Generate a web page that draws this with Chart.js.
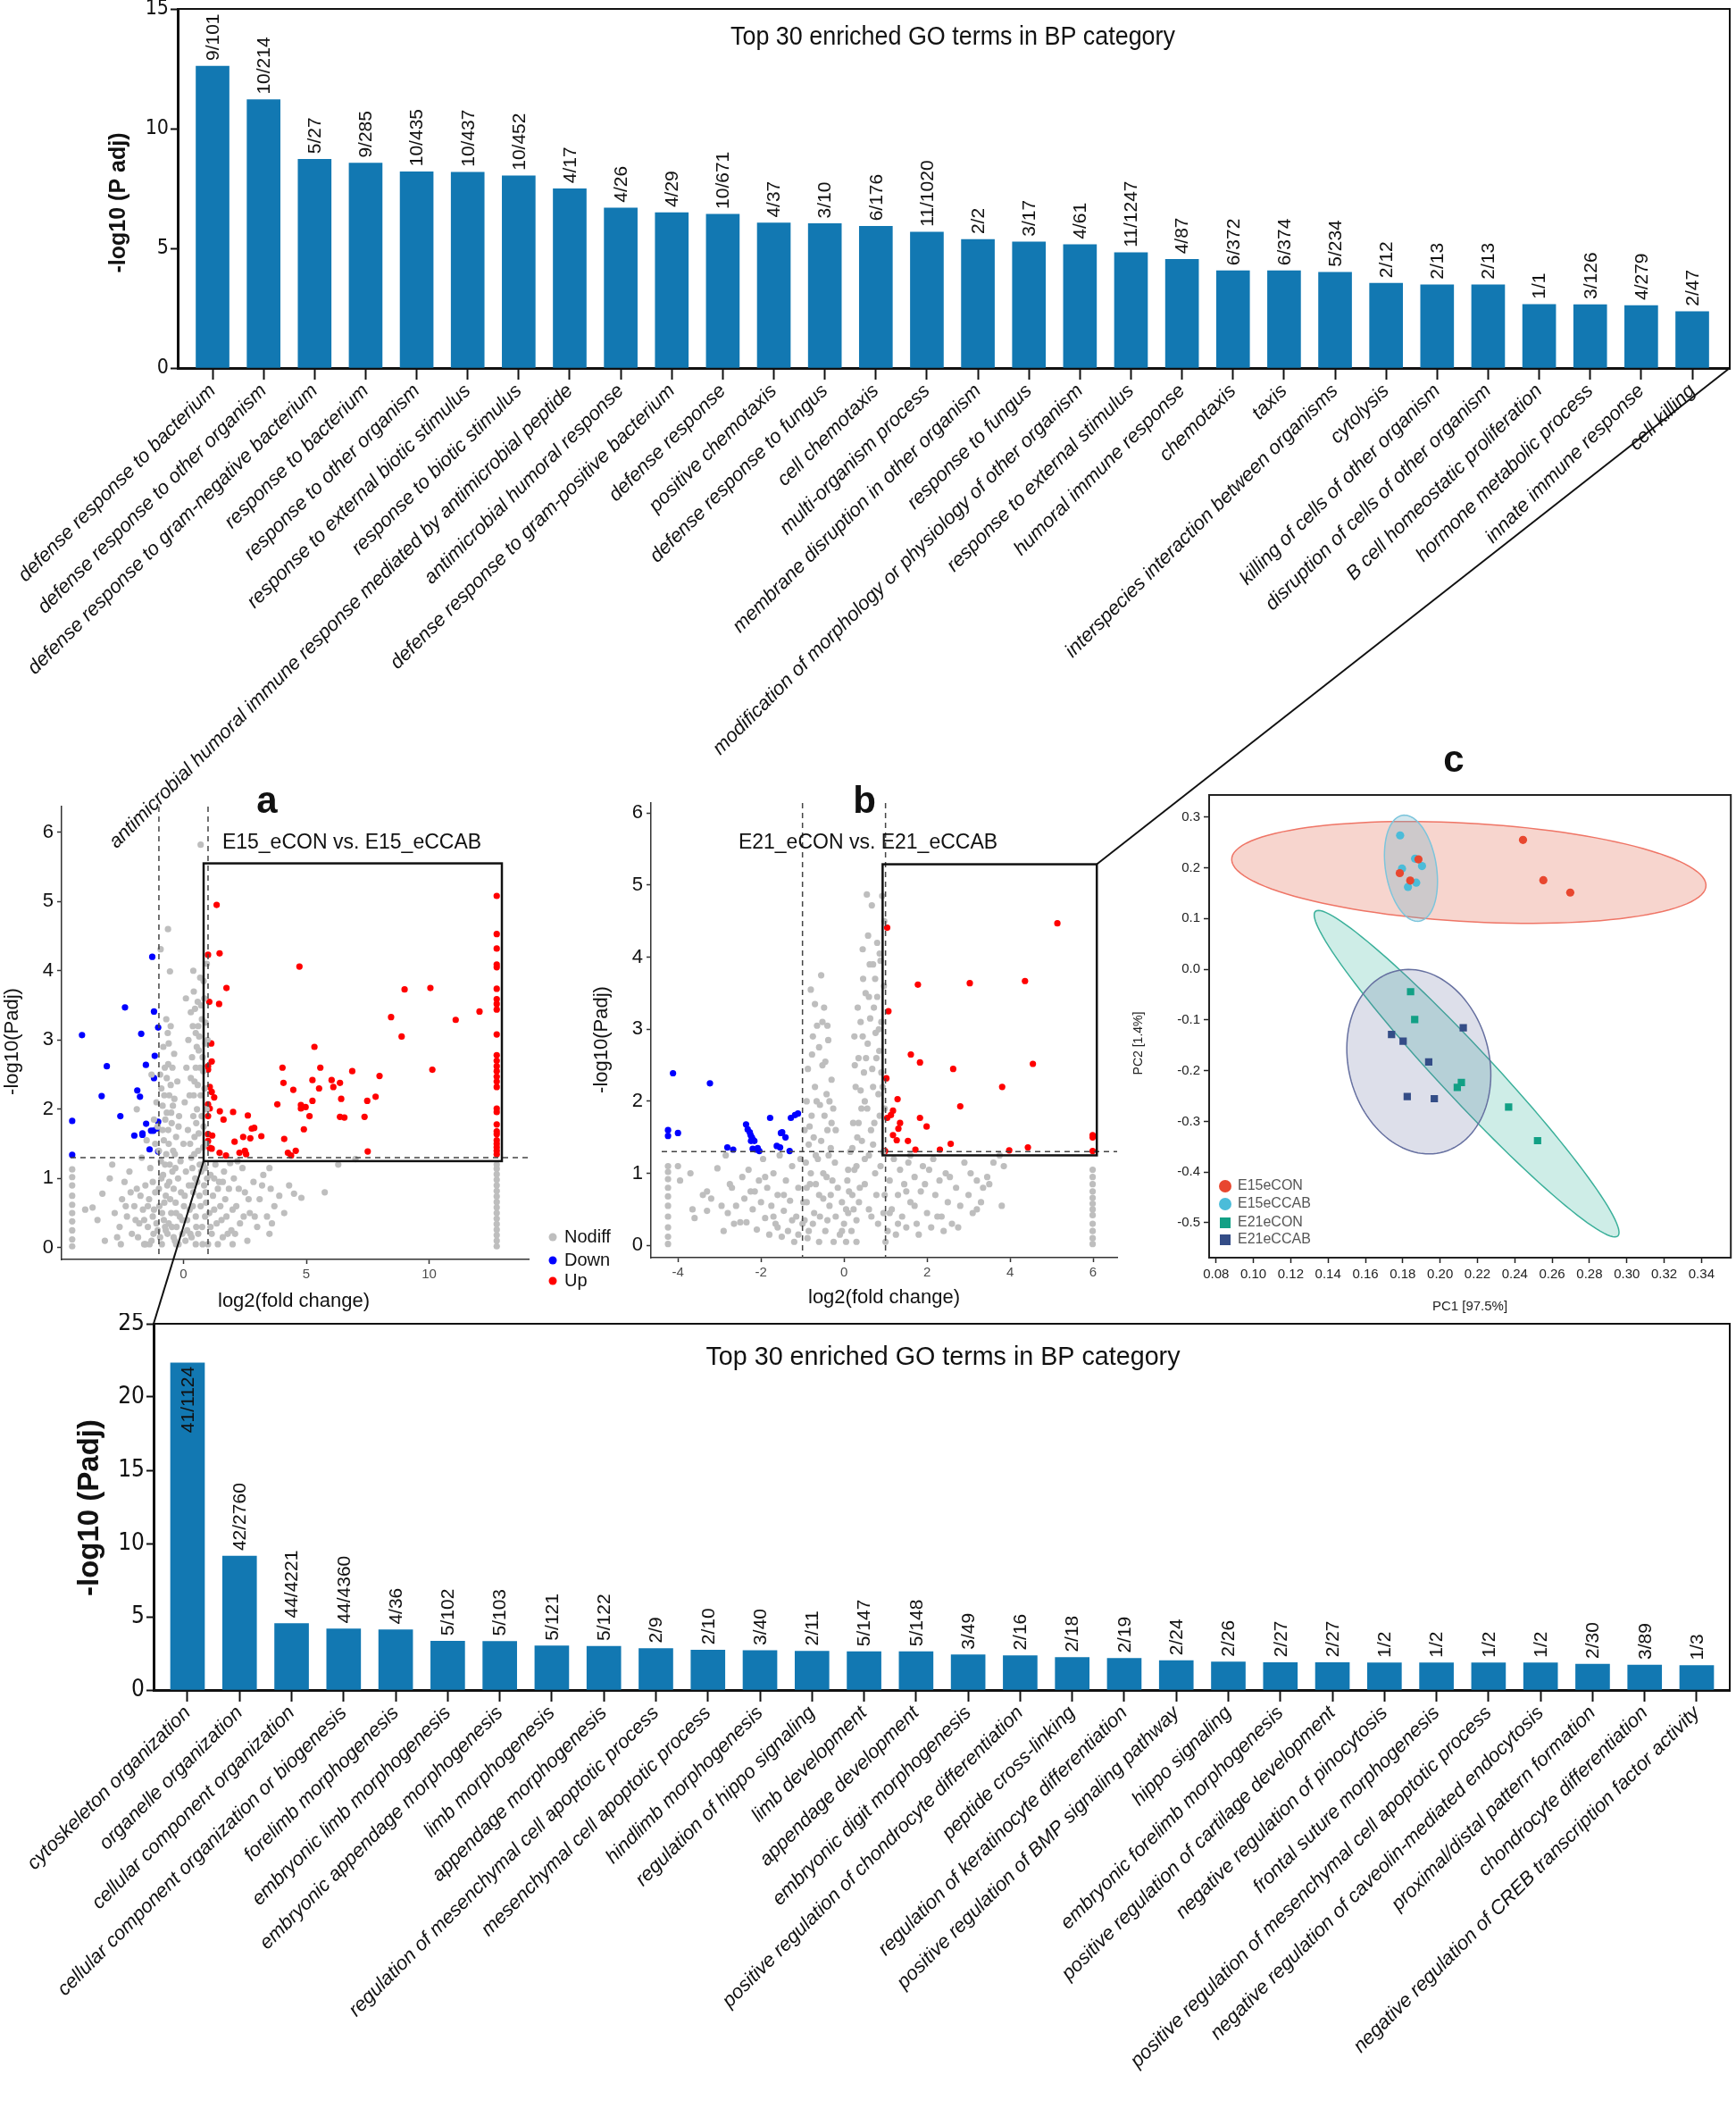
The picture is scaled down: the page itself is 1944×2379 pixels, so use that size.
<!DOCTYPE html>
<html><head><meta charset="utf-8">
<script src="https://cdn.jsdelivr.net/npm/chart.js@4.4.1/dist/chart.umd.min.js"></script>
<style>
html,body{margin:0;padding:0;background:#fff}
body{width:1944px;height:2379px;position:relative;overflow:hidden}
canvas{position:absolute}
</style></head>
<body>
<canvas id="cTop" width="1944" height="1000" style="left:0px;top:0px"></canvas>
<canvas id="cA" width="700" height="650" style="left:0px;top:860px"></canvas>
<canvas id="cB" width="640" height="650" style="left:640px;top:860px"></canvas>
<canvas id="cC" width="684" height="660" style="left:1260px;top:830px"></canvas>
<canvas id="cBot" width="1944" height="909" style="left:0px;top:1470px"></canvas>
<canvas id="cOv" width="1944" height="2379" style="left:0px;top:0px;z-index:10;pointer-events:none"></canvas>
<script>
// ---------------- DATA ----------------
const topTerms = ["defense response to bacterium","defense response to other organism","defense response to gram-negative bacterium","response to bacterium","response to other organism","response to external biotic stimulus","response to biotic stimulus","antimicrobial humoral immune response mediated by antimicrobial peptide","antimicrobial humoral response","defense response to gram-positive bacterium","defense response","positive chemotaxis","defense response to fungus","cell chemotaxis","multi-organism process","membrane disruption in other organism","response to fungus","modification of morphology or physiology of other organism","response to external stimulus","humoral immune response","chemotaxis","taxis","interspecies interaction between organisms","cytolysis","killing of cells of other organism","disruption of cells of other organism","B cell homeostatic proliferation","hormone metabolic process","innate immune response","cell killing"];
const topValues = [12.61,11.21,8.72,8.56,8.20,8.18,8.03,7.49,6.69,6.49,6.42,6.06,6.03,5.92,5.68,5.37,5.27,5.16,4.82,4.54,4.06,4.06,4.00,3.54,3.48,3.48,2.66,2.65,2.61,2.36];
const topCounts = ["9/101","10/214","5/27","9/285","10/435","10/437","10/452","4/17","4/26","4/29","10/671","4/37","3/10","6/176","11/1020","2/2","3/17","4/61","11/1247","4/87","6/372","6/374","5/234","2/12","2/13","2/13","1/1","3/126","4/279","2/47"];
const topYTicks = [0,5,10,15];

const botTerms = ["cytoskeleton organization","organelle organization","cellular component organization","cellular component organization or biogenesis","forelimb morphogenesis","embryonic limb morphogenesis","embryonic appendage morphogenesis","limb morphogenesis","appendage morphogenesis","regulation of mesenchymal cell apoptotic process","mesenchymal cell apoptotic process","hindlimb morphogenesis","regulation of hippo signaling","limb development","appendage development","embryonic digit morphogenesis","positive regulation of chondrocyte differentiation","peptide cross-linking","regulation of keratinocyte differentiation","positive regulation of BMP signaling pathway","hippo signaling","embryonic forelimb morphogenesis","positive regulation of cartilage development","negative regulation of pinocytosis","frontal suture morphogenesis","positive regulation of mesenchymal cell apoptotic process","negative regulation of caveolin-mediated endocytosis","proximal/distal pattern formation","chondrocyte differentiation","negative regulation of CREB transcription factor activity"];
const botValues = [22.33,9.14,4.54,4.17,4.11,3.34,3.32,3.01,2.99,2.83,2.73,2.69,2.65,2.61,2.61,2.40,2.34,2.22,2.16,2.00,1.91,1.87,1.87,1.85,1.85,1.85,1.85,1.77,1.71,1.67];
const botCounts = ["41/1124","42/2760","44/4221","44/4360","4/36","5/102","5/103","5/121","5/122","2/9","2/10","3/40","2/11","5/147","5/148","3/49","2/16","2/18","2/19","2/24","2/26","2/27","2/27","1/2","1/2","1/2","1/2","2/30","3/89","1/3"];
const botYTicks = [0,5,10,15,20,25];

const barTitle = "Top 30 enriched GO terms in BP category";

// volcano a: E15_eCON vs. E15_eCCAB  [log2FC, -log10 Padj]
const volcAGray = [
[-4.53,0.02],[-4.53,0.12],[-4.53,0.25],[-4.53,0.38],[-4.53,0.5],[-4.53,0.62],[-4.53,0.75],[-4.53,0.9],[-4.53,1.02],[-4.53,1.13],
[12.75,0.02],[12.75,0.1],[12.75,0.18],[12.75,0.26],[12.75,0.34],[12.75,0.42],[12.75,0.5],[12.75,0.58],[12.75,0.66],[12.75,0.74],[12.75,0.82],[12.75,0.9],[12.75,0.98],[12.75,1.06],[12.75,1.14],[12.75,1.2],
[-4.0,0.55],[-3.7,0.58],[-3.5,0.4],[-3.3,0.78],[-3.0,1.0],[-2.9,1.2],[-2.8,0.5],[-2.6,0.3],[-2.5,0.7],[-2.4,0.95],[-2.3,0.45],[-2.2,1.1],[-2.1,0.2],[-2.0,0.6],[-1.9,0.85],[-1.85,0.15],[-1.8,0.35],[-1.7,1.3],[-1.65,0.55],[-1.6,0.05],[-1.55,0.9],[-1.5,1.55],[-1.45,0.3],[-1.4,0.7],[-1.35,1.15],[-1.3,0.1],[-1.25,0.45],[-1.2,1.85],[-1.15,0.8],[-1.1,2.1],[-1.05,0.25],[-1.0,1.4],[-0.98,0.6],[-0.95,2.5],[-0.9,1.0],[-0.88,0.05],[-0.85,1.7],[-0.82,2.9],[-0.8,0.4],[-0.78,2.2],[-0.75,1.2],[-0.72,0.75],[-0.7,3.3],[-0.68,1.95],[-0.65,0.2],[-0.62,2.65],[-0.6,1.5],[-0.58,0.95],[-0.55,3.99],[-0.52,2.35],[-0.5,0.5],[-0.48,1.8],[-0.45,1.1],[-0.43,2.05],[-0.4,0.15],[-0.38,2.8],[-0.35,1.35],[-0.32,0.65],[-0.3,1.6],[-0.63,4.6],[-0.93,4.31],[-0.28,0.3],[-0.25,2.4],[-0.22,1.0],[-0.2,0.05],[-0.18,1.9],[-0.15,0.45],[-0.12,1.25],[-0.1,0.8],[-0.05,0.2],[0.0,1.5],[0.02,0.6],[0.05,2.1],[0.08,0.1],[0.1,1.1],[0.12,2.6],[0.15,0.4],[0.18,1.7],[0.2,3.0],[0.22,0.9],[0.25,2.2],[0.28,0.2],[0.3,3.4],[0.32,1.3],[0.35,2.75],[0.38,0.6],[0.4,1.9],[0.42,3.7],[0.45,2.4],[0.48,1.0],[0.5,3.1],[0.52,0.3],[0.55,2.0],[0.58,3.55],[0.6,1.4],[0.62,2.85],[0.65,0.75],[0.68,3.9],[0.7,2.2],[0.72,1.1],[0.75,3.3],[0.78,0.05],[0.8,2.55],[0.82,1.75],[0.85,3.6],[0.88,0.45],[0.9,2.95],[0.92,1.5],[0.95,4.1],[0.7,5.82],[0.4,4.0],[0.6,3.2],[0.5,2.6],[0.45,1.6],[0.35,0.9],[0.8,1.2],[0.9,0.8],[1.05,0.5],[1.1,1.05],[1.15,0.2],[1.2,0.75],[1.3,1.2],[1.35,0.35],[1.45,0.95],[1.5,0.6],[1.6,0.15],[1.65,1.1],[1.75,0.45],[1.85,0.85],[1.95,0.25],[2.05,1.0],[2.15,0.6],[2.3,0.35],[2.4,1.15],[2.5,0.8],[2.6,0.1],[2.7,0.5],[2.85,0.95],[3.0,0.3],[3.1,0.7],[3.25,1.05],[3.4,0.45],[3.55,0.85],[3.7,0.6],[3.9,0.75],[4.1,0.5],[4.3,0.9],[4.5,0.78],[4.8,0.72],[5.75,0.8],[6.3,1.2],[7.0,1.28],[2.2,1.25],[1.9,1.22],[3.5,1.15],[-1.9,2.0],[-0.6,2.95],[0.1,3.6],[-0.2,1.75],[-1.3,2.5],[-0.75,0.3],[-1.55,0.05],[-2.7,0.15],[-3.2,0.1],[0.5,0.05],[1.0,0.05],[-0.3,0.05],[2.0,0.05],[1.4,0.05],[3.5,0.2],
[-1.25,0.95],[-1.2,0.55],[-1.15,1.5],[-1.1,0.35],[-1.05,1.75],[-1.0,0.85],[-0.95,0.15],[-0.92,1.25],[-0.9,2.3],[-0.87,0.5],[-0.85,2.05],[-0.83,1.05],[-0.8,1.55],[-0.78,0.65],[-0.76,2.6],[-0.74,1.85],[-0.72,0.25],[-0.7,1.35],[-0.68,2.45],[-0.66,0.9],[-0.64,3.1],[-0.62,1.7],[-0.6,0.35],[-0.58,2.2],[-0.56,1.2],[-0.54,0.7],[-0.52,3.2],[-0.5,1.95],[-0.47,0.3],[-0.45,2.6],[-0.42,1.4],[-0.4,0.85],[-0.37,2.15],[-0.35,0.1],[-0.33,1.15],[-0.3,0.5],
[0.25,0.55],[0.27,1.5],[0.3,2.45],[0.33,0.15],[0.36,1.15],[0.38,3.2],[0.4,0.8],[0.42,2.2],[0.44,1.35],[0.47,3.45],[0.5,0.45],[0.52,1.8],[0.54,2.9],[0.56,0.95],[0.58,2.35],[0.6,0.2],[0.62,1.65],[0.64,3.05],[0.66,1.2],[0.68,2.6],[0.7,0.6],[0.72,3.5],[0.74,1.9],[0.76,0.3],[0.78,2.75],[0.8,1.45],[0.82,3.85],[0.84,0.9],[0.86,2.3],[0.88,1.15],[0.9,3.25],[0.92,0.65],[0.94,2.0],[0.96,1.0],[0.98,3.0],
[-2.55,0.05],[-2.35,0.6],[-2.15,0.8],[-1.95,0.4],[-1.75,0.75],[-1.6,0.4],[-1.45,0.6],[-1.38,0.05],[-1.22,0.2],[-0.05,0.4],[0.05,0.75],[0.15,0.25],[1.1,0.3],[1.25,0.55],[1.4,0.85],[1.55,0.4],[1.7,0.7],[1.8,0.2],[2.0,0.55],[2.25,0.85],[2.45,0.45],[2.65,0.7],[2.9,0.45],[3.2,0.9],[3.6,0.35],[1.25,1.0],[1.6,0.95],[2.1,0.2]
];
const volcABlue = [[-1.27,4.20],[-2.38,3.47],[-1.2,3.41],[-1.03,3.18],[-4.13,3.07],[-1.72,3.09],[-1.17,2.77],[-3.12,2.62],[-1.53,2.64],[-1.2,2.45],[-3.33,2.19],[-1.88,2.27],[-1.77,2.18],[-2.57,1.90],[-4.53,1.83],[-1.52,1.79],[-1.03,1.82],[-1.08,1.72],[-1.32,1.69],[-1.22,1.69],[-1.67,1.65],[-1.67,1.63],[-2.0,1.62],[-1.38,1.42],[-1.03,1.39],[-4.53,1.34]];
const volcARed = [[12.75,5.08],[1.35,4.95],[1.47,4.25],[1.0,4.23],[4.72,4.06],[12.75,4.53],[12.75,4.32],[12.75,4.09],[12.75,4.05],[1.75,3.75],[9.0,3.73],[10.05,3.75],[12.75,3.74],[12.75,3.59],[12.75,3.52],[12.75,3.44],[1.05,3.55],[1.45,3.52],[12.05,3.41],[8.45,3.33],[11.08,3.29],[12.75,3.08],[8.88,3.05],[1.13,2.95],[5.33,2.90],[1.15,2.69],[12.75,2.78],[12.75,2.70],[12.75,2.62],[12.75,2.55],[12.75,2.47],[12.75,2.40],[12.75,2.32],[1.0,2.62],[1.0,2.57],[4.03,2.60],[5.57,2.60],[6.87,2.55],[10.13,2.57],[7.98,2.48],[4.07,2.38],[5.25,2.42],[6.03,2.42],[6.37,2.38],[1.07,2.32],[1.15,2.25],[4.47,2.28],[5.52,2.30],[6.1,2.32],[1.25,2.17],[6.42,2.15],[7.48,2.12],[7.82,2.18],[5.25,2.12],[3.82,2.07],[4.78,2.06],[4.97,2.03],[4.78,2.01],[12.75,2.01],[12.75,1.96],[12.75,1.78],[12.75,1.68],[12.75,1.64],[12.75,1.55],[12.75,1.50],[12.75,1.45],[12.75,1.40],[12.75,1.35],[1.0,2.07],[1.07,2.01],[1.48,1.97],[2.02,1.96],[1.0,1.90],[2.62,1.91],[1.63,1.85],[5.13,1.90],[6.37,1.89],[6.55,1.88],[7.37,1.89],[4.9,1.71],[2.88,1.73],[2.78,1.72],[1.0,1.64],[1.17,1.62],[3.17,1.61],[2.43,1.60],[2.72,1.58],[1.0,1.54],[2.08,1.53],[4.1,1.57],[1.07,1.44],[1.15,1.43],[2.5,1.40],[2.28,1.37],[2.55,1.35],[1.47,1.37],[1.73,1.33],[4.25,1.37],[4.38,1.33],[4.57,1.40],[7.5,1.39]];
const volcAXTicks = [0,5,10];
const volcAYTicks = [0,1,2,3,4,5,6];
const volcABox = [0.82,1.25,12.96,5.55];   // x1, y1, x2, y2 (data units)

// volcano b: E21_eCON vs. E21_eCCAB
const volcBGray = [
[-4.24,0.02],[-4.24,0.12],[-4.24,0.25],[-4.24,0.4],[-4.24,0.55],[-4.24,0.68],[-4.24,0.8],[-4.24,0.92],[-4.24,1.02],[-4.24,1.1],
[5.99,0.02],[5.99,0.1],[5.99,0.2],[5.99,0.3],[5.99,0.42],[5.99,0.5],[5.99,0.58],[5.99,0.66],[5.99,0.75],[5.99,0.85],[5.99,0.95],[5.99,1.05],
[-4.0,1.1],[-3.7,1.0],[-3.6,0.38],[-3.65,0.5],[-3.4,0.7],[-3.3,0.75],[-3.3,0.48],[-3.2,0.65],[-3.05,1.07],[-2.85,1.25],[-2.8,0.45],[-2.75,0.85],[-2.7,0.8],[-2.6,0.55],[-2.5,0.32],[-2.45,0.95],[-2.4,0.65],[-2.35,0.32],[-2.3,1.05],[-2.25,0.75],[-2.2,0.5],[-2.1,0.22],[-2.05,0.9],[-2.0,0.6],[-1.95,1.2],[-1.9,0.38],[-1.85,0.8],[-1.8,0.15],[-1.75,0.55],[-1.7,1.0],[-1.65,0.3],[-1.6,0.7],[-1.55,1.25],[-1.5,0.12],[-1.45,0.48],[-1.4,0.9],[-1.35,0.2],[-1.3,0.62],[-1.25,1.1],[-1.2,0.05],[-1.15,0.4],[-1.1,0.8],[-1.05,1.2],[-1.0,0.3],[-0.98,0.6],[-0.95,1.6],[-0.9,2.0],[-0.88,0.1],[-0.85,1.4],[-0.82,0.85],[-0.8,3.55],[-0.78,1.8],[-0.75,2.9],[-0.72,0.45],[-0.7,2.2],[-0.68,1.25],[-0.65,3.05],[-0.6,0.7],[-0.58,1.95],[-0.55,3.75],[-0.52,2.5],[-0.5,1.0],[-0.48,3.3],[-0.45,0.2],[-0.42,2.1],[-0.4,1.6],[-0.38,2.85],[-0.35,0.55],[-0.32,1.35],[-0.3,2.3],[-0.28,0.9],[-0.26,1.9],[-0.25,0.05],[-0.22,1.15],[-0.2,0.4],[-0.15,0.8],[-0.1,0.15],[-0.05,0.6],[0.0,0.3],[0.05,0.05],[0.08,0.9],[0.1,0.45],[0.15,1.3],[0.18,0.2],[0.2,0.7],[0.22,1.7],[0.25,1.05],[0.28,2.2],[0.3,0.35],[0.32,1.5],[0.35,2.6],[0.38,0.8],[0.4,3.1],[0.42,1.9],[0.45,4.11],[0.48,2.4],[0.5,1.2],[0.52,3.5],[0.55,4.87],[0.57,2.8],[0.6,0.5],[0.62,3.9],[0.65,1.6],[0.67,4.72],[0.7,2.2],[0.72,3.3],[0.75,1.0],[0.78,2.6],[0.8,4.2],[0.82,0.3],[0.84,3.0],[0.86,1.8],[0.88,3.95],[0.9,2.4],[0.92,4.85],[0.94,1.3],[0.96,3.6],[0.98,0.7],[0.6,3.45],[0.5,2.0],[0.7,1.4],[0.45,2.9],[0.35,1.7],[0.25,2.9],[0.85,2.7],[0.75,3.7],[1.05,0.2],[1.1,0.9],[1.15,0.5],[1.2,1.2],[1.25,0.15],[1.3,0.7],[1.35,1.05],[1.4,0.4],[1.45,0.85],[1.5,0.25],[1.55,1.15],[1.6,0.6],[1.7,0.95],[1.75,0.3],[1.8,0.15],[1.85,0.75],[1.9,1.1],[2.0,0.45],[2.05,1.05],[2.1,0.25],[2.2,0.7],[2.3,0.9],[2.35,0.4],[2.45,1.0],[2.5,0.6],[2.6,0.3],[2.7,0.8],[2.8,0.55],[2.9,1.15],[3.0,0.7],[3.1,0.45],[3.2,0.9],[3.3,0.6],[3.45,0.95],[3.5,0.85],[3.6,1.15],[3.75,1.25],[3.8,0.55],[3.85,1.1],[3.2,0.5],[2.4,0.2],[1.0,0.05],[-0.6,0.05],[-1.6,0.25],[-2.9,0.2],[-0.4,0.35],[0.3,0.05],[-0.9,0.8],[0.1,1.05],[-0.2,1.6],[-3.95,0.9],
[-0.95,0.35],[-0.92,1.15],[-0.9,0.6],[-0.87,2.45],[-0.85,0.2],[-0.83,1.65],[-0.8,1.0],[-0.77,2.65],[-0.75,0.3],[-0.73,1.5],[-0.7,3.35],[-0.68,0.85],[-0.66,2.0],[-0.63,1.2],[-0.6,2.75],[-0.58,0.4],[-0.55,1.45],[-0.52,3.1],[-0.5,0.65],[-0.47,1.8],[-0.45,2.55],[-0.42,0.95],[-0.4,3.05],[-0.37,1.25],[-0.35,2.0],[-0.32,0.7],[-0.3,1.7],
[0.2,1.35],[0.23,0.5],[0.26,2.5],[0.3,1.1],[0.33,3.3],[0.36,0.6],[0.4,2.15],[0.43,1.45],[0.46,3.7],[0.5,0.85],[0.53,2.6],[0.56,1.9],[0.58,4.3],[0.6,1.25],[0.63,3.15],[0.66,0.4],[0.68,2.45],[0.7,3.9],[0.73,1.7],[0.76,2.95],[0.78,0.7],[0.8,3.45],[0.83,2.1],[0.86,4.05],[0.88,1.1],[0.9,3.1],[0.93,2.2],[0.95,0.45],[0.97,4.5],[0.98,1.9],
[-2.95,0.55],[-2.65,0.3],[-2.15,0.75],[-1.9,0.95],[-1.7,0.4],[-1.45,0.7],[-1.25,0.35],[-1.1,0.15],[-0.05,0.2],[0.05,0.5],[0.12,0.75],[1.1,0.45],[1.3,0.3],[1.5,0.75],[1.7,0.55],[1.95,0.85],[2.25,0.4],[2.55,0.95],[2.75,0.25],[3.05,1.0],[3.35,0.8],[1.6,1.25],[2.15,1.2]
];
const volcBBlue = [[-4.12,2.39],[-3.23,2.25],[-4.24,1.60],[-4.24,1.52],[-4.0,1.56],[-2.36,1.68],[-2.32,1.61],[-2.27,1.57],[-2.25,1.53],[-2.22,1.50],[-2.2,1.47],[-2.16,1.45],[-2.24,1.45],[-2.12,1.33],[-2.2,1.34],[-2.08,1.35],[-2.04,1.31],[-1.78,1.77],[-1.28,1.77],[-1.18,1.81],[-1.11,1.83],[-1.49,1.57],[-1.52,1.56],[-1.41,1.50],[-2.81,1.36],[-2.67,1.33],[-1.62,1.38],[-1.54,1.36],[-1.31,1.31]];
const volcBRed = [[5.14,4.47],[1.04,4.41],[4.36,3.67],[3.03,3.64],[1.78,3.62],[1.07,3.25],[1.61,2.65],[1.83,2.54],[4.55,2.52],[2.63,2.45],[1.02,2.32],[3.81,2.20],[2.80,1.93],[1.29,2.03],[1.18,1.87],[1.13,1.81],[1.04,1.77],[1.83,1.77],[1.35,1.70],[1.99,1.65],[1.31,1.62],[1.18,1.53],[1.27,1.46],[1.54,1.45],[2.57,1.41],[4.43,1.36],[1.72,1.33],[2.31,1.33],[3.98,1.32],[0.99,1.31],[5.99,1.53],[5.99,1.50],[5.99,1.31]];
const volcBXTicks = [-4,-2,0,2,4,6];
const volcBYTicks = [0,1,2,3,4,5,6];
const volcBBox = [0.93,1.25,6.09,5.29];

const fcCutoffs = [-1,1];
const padjCutoff = 1.301;

// PCA  [PC1, PC2]
const pcaE15eCON  = [[0.2444,0.2548],[0.2553,0.1755],[0.2697,0.1511],[0.1784,0.1894],[0.1840,0.1748],[0.1884,0.2165]];
const pcaE15eCCAB = [[0.1786,0.2638],[0.1796,0.1984],[0.1866,0.2179],[0.1903,0.2033],[0.1872,0.1706],[0.1828,0.1622]];
const pcaE21eCON  = [[0.1842,-0.0444],[0.1864,-0.0993],[0.2114,-0.2232],[0.2092,-0.2329],[0.2367,-0.2719],[0.2522,-0.3380]];
const pcaE21eCCAB = [[0.2124,-0.1153],[0.1740,-0.1286],[0.1802,-0.1418],[0.1939,-0.1828],[0.1824,-0.2510],[0.1969,-0.2552]];
const pcaGroups = ["E15eCON","E15eCCAB","E21eCON","E21eCCAB"];
// confidence ellipses: centre, two conjugate semi-axes (data units)
const ellE15eCON  = {c:[0.2154,0.1908],  u:[0.1270,-0.0244],  v:[-0.0016,0.0974]};
const ellE15eCCAB = {c:[0.1844,0.1991],  u:[-0.00443,0.1044], v:[0.0135,0.00696]};
const ellE21eCON  = {c:[0.2142,-0.2060], u:[0.0809,-0.3202],  v:[-0.01087,-0.0327]};
const ellE21eCCAB = {c:[0.1886,-0.1823], u:[-0.00362,0.1817], v:[0.0384,-0.0084]};
const pcaXTicks = [0.08,0.10,0.12,0.14,0.16,0.18,0.20,0.22,0.24,0.26,0.28,0.30,0.32,0.34];
const pcaYTicks = [-0.5,-0.4,-0.3,-0.2,-0.1,0.0,0.1,0.2,0.3];

// ---------------- STYLE / HELPERS ----------------
const FONT = "'Liberation Sans', Arial, Helvetica, sans-serif";
const NARROW = "'Liberation Sans Narrow', 'Arial Narrow', 'DejaVu Sans Condensed', 'Liberation Sans', sans-serif";
const BAR = '#1278b2';
Chart.defaults.font.family = FONT;

function fixAxis(size, horiz) {
  return (s) => {
    if (horiz) s.height = size; else s.width = size;
    s.paddingLeft = 0; s.paddingRight = 0; s.paddingTop = 0; s.paddingBottom = 0;
  };
}
function setTicks(vals) { return (s) => { s.ticks = vals.map(v => ({value: v})); }; }
function condText(ctx, txt, cx, cy, font, targetW, color) {
  ctx.save(); ctx.font = font; ctx.fillStyle = color || '#111';
  const w = ctx.measureText(txt).width;
  ctx.translate(cx, cy); ctx.scale(targetW / w, 1);
  ctx.textAlign = 'center'; ctx.textBaseline = 'middle';
  ctx.fillText(txt, 0, 0); ctx.restore();
}
function text(ctx, txt, x, y, font, color, rot, align) {
  ctx.save(); ctx.font = font; ctx.fillStyle = color || '#111';
  ctx.translate(x, y); if (rot) ctx.rotate(rot);
  ctx.textAlign = align || 'center'; ctx.textBaseline = 'middle';
  ctx.fillText(txt, 0, 0); ctx.restore();
}
const baseOpts = { responsive: false, animation: false, events: [], devicePixelRatio: 1 };
const noPlugins = { legend: {display: false}, tooltip: {enabled: false}, title: {display: false} };

// ---------------- BAR CHARTS ----------------
function makeBar(id, terms, values, counts, yTicks, g) {
  return new Chart(document.getElementById(id), {
    type: 'bar',
    data: { datasets: [{ data: values.map((v, i) => ({x: i, y: v})), backgroundColor: BAR, borderWidth: 0, barThickness: g.barW }] },
    options: Object.assign({}, baseOpts, {
      layout: { padding: { left: 0, top: g.top, right: g.W - g.right, bottom: 0 } },
      plugins: noPlugins,
      scales: {
        x: { type: 'linear', min: g.xMin, max: g.xMax, offset: false,
             afterBuildTicks: setTicks(terms.map((_, i) => i)), afterFit: fixAxis(g.H - g.bottom, true),
             ticks: { autoSkip: false, maxRotation: 45, minRotation: 45, padding: 0, color: '#111',
                      font: { family: FONT, size: 22, style: 'italic' }, callback: v => terms[v] },
             grid: { offset: false, drawOnChartArea: false, drawTicks: true, tickLength: g.tickLen, tickWidth: 2, tickColor: '#111', color: '#111' },
             border: { display: true, color: '#111', width: 3 } },
        y: { type: 'linear', min: 0, max: yTicks[yTicks.length - 1],
             afterBuildTicks: setTicks(yTicks), afterFit: fixAxis(g.left, false),
             ticks: { padding: 2, color: '#111', font: { family: NARROW, size: g.yTickSize } },
             grid: { drawOnChartArea: false, drawTicks: true, tickLength: 8, tickWidth: 2, tickColor: '#111', color: '#111' },
             border: { display: true, color: '#111', width: 3 } }
      }
    }),
    plugins: [{
      id: 'barDecor',
      afterDatasetsDraw(chart) {
        const ctx = chart.ctx, a = chart.chartArea;
        chart.getDatasetMeta(0).data.forEach((bar, i) => {
          const t = counts[i];
          ctx.save(); ctx.font = '21px ' + FONT; ctx.fillStyle = '#111';
          const w = ctx.measureText(t).width;
          ctx.translate(bar.x, bar.y); ctx.rotate(-Math.PI / 2); ctx.textBaseline = 'middle';
          if (bar.y - 6 - w < a.top) { ctx.textAlign = 'right'; ctx.fillText(t, -4, 1); }
          else { ctx.textAlign = 'left'; ctx.fillText(t, 6, 1); }
          ctx.restore();
        });
      },
      afterDraw(chart) {
        const ctx = chart.ctx, a = chart.chartArea;
        ctx.save(); ctx.strokeStyle = '#111'; ctx.lineWidth = 2;
        ctx.beginPath(); ctx.moveTo(a.left, a.top); ctx.lineTo(a.right, a.top); ctx.lineTo(a.right, a.bottom); ctx.stroke();
        ctx.restore();
        condText(ctx, barTitle, g.titleX, g.titleY, '29px ' + FONT, g.titleW, '#111');
        text(ctx, g.yTitle, g.yTitleX, g.yTitleY, 'bold ' + g.yTitleSize + 'px ' + FONT, '#111', -Math.PI / 2);
      }
    }]
  });
}

const topChart = makeBar('cTop', topTerms, topValues, topCounts, topYTicks, {
  W: 1944, H: 1000, left: 199, top: 10, right: 1937, bottom: 412, xMin: -0.683, xMax: 29.735, barW: 37, tickLen: 13,
  yTickSize: 23, titleX: 1067, titleY: 42, titleW: 498, yTitle: '-log10 (P adj)', yTitleX: 133, yTitleY: 227, yTitleSize: 25 });
const botChart = makeBar('cBot', botTerms, botValues, botCounts, botYTicks, {
  W: 1944, H: 909, left: 172, top: 12, right: 1937, bottom: 422, xMin: -0.652, xMax: 29.635, barW: 38, tickLen: 13,
  yTickSize: 26, titleX: 1056, titleY: 50, titleW: 531, yTitle: '-log10 (Padj)', yTitleX: 101, yTitleY: 218, yTitleSize: 33 });

// ---------------- VOLCANO PLOTS ----------------
function makeVolcano(id, gray, blue, red, xr, yr, xTicks, yTicks, box, g) {
  const pts = arr => arr.map(p => ({x: p[0], y: p[1]}));
  const ds = (arr, col) => ({ data: pts(arr), backgroundColor: col, borderWidth: 0, pointRadius: 3.6 });
  return new Chart(document.getElementById(id), {
    type: 'scatter',
    data: { datasets: [ds(gray, '#bebebe'), ds(blue, '#0000ff'), ds(red, '#ff0000')] },
    options: Object.assign({}, baseOpts, {
      layout: { padding: { left: 0, top: g.top, right: g.W - g.right, bottom: 0 } },
      plugins: noPlugins,
      scales: {
        x: { type: 'linear', min: xr[0], max: xr[1], afterBuildTicks: setTicks(xTicks), afterFit: fixAxis(g.H - g.bottom, true),
             ticks: { padding: 3, color: '#4d4d4d', font: { size: 15 } },
             grid: { drawOnChartArea: false, tickLength: 5, tickWidth: 1.5, tickColor: '#333', color: '#333' },
             border: { color: '#333', width: 1.5 } },
        y: { type: 'linear', min: yr[0], max: yr[1], afterBuildTicks: setTicks(yTicks), afterFit: fixAxis(g.left, false),
             ticks: { padding: 4, color: '#111', font: { size: 22 } },
             grid: { drawOnChartArea: false, tickLength: 5, tickWidth: 1.5, tickColor: '#333', color: '#333' },
             border: { color: '#333', width: 1.5 } }
      }
    }),
    plugins: [{
      id: 'volcDecor',
      afterDatasetsDraw(chart) {
        const ctx = chart.ctx, a = chart.chartArea, sx = chart.scales.x, sy = chart.scales.y;
        ctx.save(); ctx.strokeStyle = '#444'; ctx.lineWidth = 1.5; ctx.setLineDash([6, 5]);
        fcCutoffs.forEach(c => { const px = sx.getPixelForValue(c); ctx.beginPath(); ctx.moveTo(px, a.top); ctx.lineTo(px, a.bottom); ctx.stroke(); });
        const py = sy.getPixelForValue(padjCutoff);
        ctx.beginPath(); ctx.moveTo(a.left + g.hLineStart, py); ctx.lineTo(a.right, py); ctx.stroke();
        ctx.setLineDash([]); ctx.strokeStyle = '#111'; ctx.lineWidth = 2.5;
        const x1 = sx.getPixelForValue(box[0]), x2 = sx.getPixelForValue(box[2]);
        const y1 = sy.getPixelForValue(box[1]), y2 = sy.getPixelForValue(box[3]);
        ctx.strokeRect(x1, y2, x2 - x1, y1 - y2);
        ctx.restore();
      },
      afterDraw(chart) {
        const ctx = chart.ctx;
        text(ctx, g.title, g.titleX, g.titleY, '23px ' + FONT, '#111');
        text(ctx, g.letter, g.letterX, g.letterY, 'bold 42px ' + FONT, '#111');
        text(ctx, '-log10(Padj)', g.yTitleX, g.yTitleY, '22px ' + FONT, '#111', -Math.PI / 2);
        text(ctx, 'log2(fold change)', g.xTitleX, g.xTitleY, '22px ' + FONT, '#111');
        if (g.legend) {
          const items = [['Nodiff', '#bebebe'], ['Down', '#0000ff'], ['Up', '#ff0000']];
          items.forEach((it, k) => {
            const yy = g.legend.y[k];
            ctx.save(); ctx.fillStyle = it[1]; ctx.beginPath(); ctx.arc(g.legend.x, yy, 4.5, 0, Math.PI * 2); ctx.fill(); ctx.restore();
            text(ctx, it[0], g.legend.x + 13, yy, '20px ' + FONT, '#111', 0, 'left');
          });
        }
      }
    }]
  });
}

const volcA = makeVolcano('cA', volcAGray, volcABlue, volcARed, [-4.96, 14.05], [-0.17, 6.37], volcAXTicks, volcAYTicks, volcABox, {
  W: 700, H: 650, left: 69, top: 43, right: 592, bottom: 550, hLineStart: 10,
  title: 'E15_eCON vs. E15_eCCAB', titleX: 394, titleY: 84, letter: 'a', letterX: 299, letterY: 38,
  yTitleX: 14, yTitleY: 306, xTitleX: 329, xTitleY: 597, legend: { x: 619, y: [525, 551, 574] } });
const volcB = makeVolcano('cB', volcBGray, volcBBlue, volcBRed, [-4.65, 6.58], [-0.17, 6.14], volcBXTicks, volcBYTicks, volcBBox, {
  W: 640, H: 650, left: 89, top: 39, right: 611, bottom: 548, hLineStart: 12,
  title: 'E21_eCON vs. E21_eCCAB', titleX: 332, titleY: 84, letter: 'b', letterX: 328, letterY: 38,
  yTitleX: 34, yTitleY: 304, xTitleX: 350, xTitleY: 593, legend: null });

// ---------------- PCA ----------------
const pcaCols = { E15eCON: '#e8472f', E15eCCAB: '#4bbcd9', E21eCON: '#12a085', E21eCCAB: '#344d87' };
const pcaEll = [
  { e: ellE15eCON,  fill: 'rgba(232,135,115,0.35)', stroke: '#ef7566' },
  { e: ellE15eCCAB, fill: 'rgba(110,175,200,0.30)', stroke: '#7cc5dc' },
  { e: ellE21eCON,  fill: 'rgba(60,185,160,0.25)',  stroke: '#3bb09a' },
  { e: ellE21eCCAB, fill: 'rgba(100,110,160,0.22)', stroke: '#6670a0' }
];
const pcaG = { W: 684, H: 660, left: 94, top: 60, right: 682, bottom: 578 };
const pcaChart = new Chart(document.getElementById('cC'), {
  type: 'scatter',
  data: { datasets: [
    { label: 'E15eCON',  data: pcaE15eCON.map(p => ({x: p[0], y: p[1]})),  backgroundColor: pcaCols.E15eCON,  borderWidth: 0, pointRadius: 4.6, pointStyle: 'circle' },
    { label: 'E15eCCAB', data: pcaE15eCCAB.map(p => ({x: p[0], y: p[1]})), backgroundColor: pcaCols.E15eCCAB, borderWidth: 0, pointRadius: 4.6, pointStyle: 'circle' },
    { label: 'E21eCON',  data: pcaE21eCON.map(p => ({x: p[0], y: p[1]})),  backgroundColor: pcaCols.E21eCON,  borderWidth: 0, pointRadius: 5.8, pointStyle: 'rect' },
    { label: 'E21eCCAB', data: pcaE21eCCAB.map(p => ({x: p[0], y: p[1]})), backgroundColor: pcaCols.E21eCCAB, borderWidth: 0, pointRadius: 5.8, pointStyle: 'rect' }
  ] },
  options: Object.assign({}, baseOpts, {
    layout: { padding: { left: 0, top: pcaG.top, right: pcaG.W - pcaG.right, bottom: 0 } },
    plugins: noPlugins,
    scales: {
      x: { type: 'linear', min: 0.0763, max: 0.3557, afterBuildTicks: setTicks(pcaXTicks), afterFit: fixAxis(pcaG.H - pcaG.bottom, true),
           ticks: { padding: 4, color: '#222', font: { size: 15 }, callback: v => v.toFixed(2) },
           grid: { drawOnChartArea: false, tickLength: 6, tickWidth: 1.5, tickColor: '#222', color: '#222' },
           border: { color: '#222', width: 2 } },
      y: { type: 'linear', min: -0.5687, max: 0.3435, afterBuildTicks: setTicks(pcaYTicks), afterFit: fixAxis(pcaG.left, false),
           ticks: { padding: 4, color: '#222', font: { size: 15 }, callback: v => v.toFixed(1) },
           grid: { drawOnChartArea: false, tickLength: 6, tickWidth: 1.5, tickColor: '#222', color: '#222' },
           border: { color: '#222', width: 2 } }
    }
  }),
  plugins: [{
    id: 'pcaDecor',
    beforeDatasetsDraw(chart) {
      const ctx = chart.ctx, sx = chart.scales.x, sy = chart.scales.y;
      pcaEll.forEach(E => {
        const e = E.e;
        ctx.save(); ctx.beginPath();
        for (let k = 0; k <= 120; k++) {
          const t = k / 120 * Math.PI * 2;
          const dx = e.c[0] + e.u[0] * Math.cos(t) + e.v[0] * Math.sin(t);
          const dy = e.c[1] + e.u[1] * Math.cos(t) + e.v[1] * Math.sin(t);
          const px = sx.getPixelForValue(dx), py = sy.getPixelForValue(dy);
          if (k === 0) ctx.moveTo(px, py); else ctx.lineTo(px, py);
        }
        ctx.closePath(); ctx.fillStyle = E.fill; ctx.fill();
        ctx.strokeStyle = E.stroke; ctx.lineWidth = 1.5; ctx.stroke(); ctx.restore();
      });
    },
    afterDraw(chart) {
      const ctx = chart.ctx, a = chart.chartArea;
      ctx.save(); ctx.strokeStyle = '#222'; ctx.lineWidth = 2; ctx.strokeRect(a.left, a.top, a.right - a.left, a.bottom - a.top); ctx.restore();
      text(ctx, 'PC1 [97.5%]', 386, 633, '15px ' + FONT, '#222');
      text(ctx, 'PC2 [1.4%]', 15, 338, '14px ' + FONT, '#222', -Math.PI / 2);
      text(ctx, 'c', 368, 22, 'bold 42px ' + FONT, '#111');
      const lx = 112, ly = [498, 518, 539, 558];
      pcaGroups.forEach((name, k) => {
        ctx.save(); ctx.fillStyle = pcaCols[name];
        if (k < 2) { ctx.beginPath(); ctx.arc(lx, ly[k], 7, 0, Math.PI * 2); ctx.fill(); }
        else { ctx.fillRect(lx - 6, ly[k] - 6, 12, 12); }
        ctx.restore();
        text(ctx, name, lx + 14, ly[k], '16px ' + FONT, '#555', 0, 'left');
      });
    }
  }]
});

// ---------------- CONNECTOR LINES ----------------
(function () {
  const ctx = document.getElementById('cOv').getContext('2d');
  ctx.strokeStyle = '#111'; ctx.lineWidth = 2;
  const tA = topChart.chartArea;
  const bx = volcB.scales.x.getPixelForValue(volcBBox[2]) + 640;
  const by = volcB.scales.y.getPixelForValue(volcBBox[3]) + 860;
  ctx.beginPath(); ctx.moveTo(tA.right, tA.bottom); ctx.lineTo(bx, by); ctx.stroke();
  const ax = volcA.scales.x.getPixelForValue(volcABox[0]) + 0;
  const ay = volcA.scales.y.getPixelForValue(volcABox[1]) + 860;
  const bA = botChart.chartArea;
  ctx.beginPath(); ctx.moveTo(ax, ay); ctx.lineTo(bA.left, bA.top + 1470); ctx.stroke();
})();
</script>
</body></html>
